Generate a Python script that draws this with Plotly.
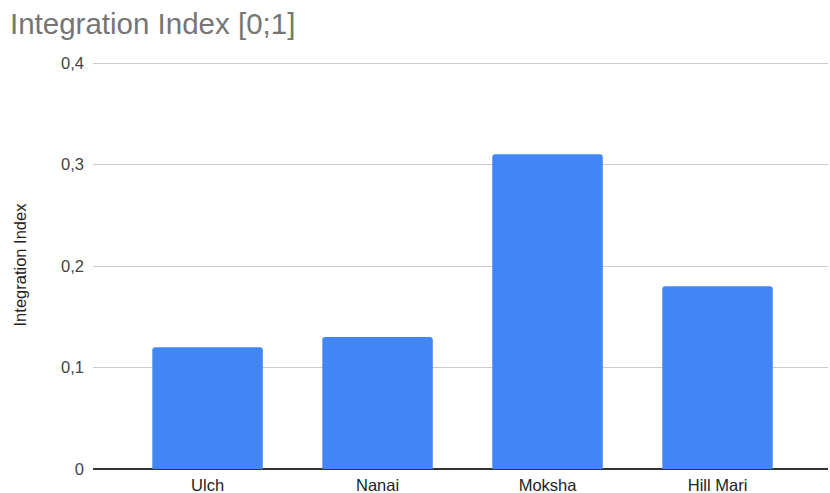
import plotly.graph_objects as go

# Index values per language
languages = ["Ulch", "Nanai", "Moksha", "Hill Mari"]
index_values = [0.12, 0.13, 0.31, 0.18]

# Y-axis ticks (comma as decimal separator)
y_tick_vals = [0, 0.1, 0.2, 0.3, 0.4]
y_tick_text = ["0", "0,1", "0,2", "0,3", "0,4"]

FONT = "Liberation Sans, Arial, sans-serif"

fig = go.Figure(
    go.Bar(
        x=languages,
        y=index_values,
        width=0.65,
        marker=dict(color="#4285F4", line=dict(width=0)),
        hoverinfo="x+y",
    )
)

fig.update_layout(
    width=830,
    height=493,
    margin=dict(l=93, r=2, t=61, b=24),
    paper_bgcolor="white",
    plot_bgcolor="white",
    barcornerradius=3,
    showlegend=False,
    separators=", ",
    font=dict(family=FONT, size=16.5, color="#222222"),
    title=dict(
        text="Integration Index [0;1]",
        font=dict(family=FONT, size=29.5, color="#757575"),
        x=10 / 830,
        xanchor="left",
        xref="container",
        y=1 - 24 / 493,
        yanchor="middle",
        yref="container",
    ),
)

fig.update_xaxes(
    range=[-0.674, 3.65],
    showgrid=False,
    showline=False,
    zeroline=False,
    ticks="",
    tickfont=dict(family=FONT, size=16.5, color="#222222"),
    ticklabelstandoff=4,
    automargin=False,
)

# a little headroom above 0,4 so its gridline is not clipped at the plot edge
fig.update_yaxes(
    range=[0, 0.402],
    tickvals=y_tick_vals,
    ticktext=y_tick_text,
    showgrid=True,
    gridcolor="#cccccc",
    gridwidth=1,
    zeroline=True,
    zerolinecolor="#333333",
    zerolinewidth=1.5,
    showline=False,
    ticks="",
    ticklabelstandoff=8,
    tickfont=dict(family=FONT, size=16.5, color="#444444"),
    title=dict(
        text="Integration Index",
        font=dict(family=FONT, size=16.5, color="#222222"),
        standoff=30,
    ),
    automargin=False,
)

fig.write_html("out.html")
